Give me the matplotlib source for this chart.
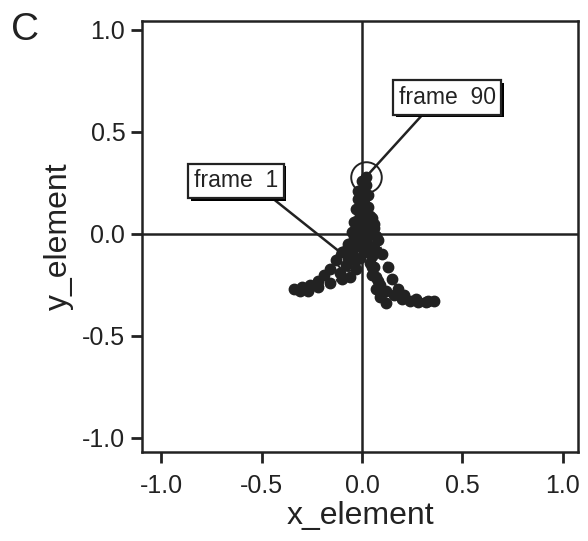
import matplotlib
matplotlib.use("Agg")
import matplotlib.pyplot as plt
import matplotlib.patheffects as pe

plt.rcParams['font.family'] = ['Liberation Sans', 'DejaVu Sans']

# trajectory of the element over 90 frames
x_element = [-0.07, -0.06, -0.04, -0.03, -0.02, -0.01, 0.01, 0.02, 0.03, 0.04,
             0.05, 0.06, 0.07, 0.09, 0.12, 0.16, 0.20, 0.24, 0.28, 0.32,
             0.36, 0.33, 0.27, 0.21, 0.18, 0.15, 0.13, 0.10, 0.08, 0.06,
             0.05, 0.03, 0.01, -0.01, -0.02, -0.03, -0.04, -0.05, -0.07, -0.10,
             -0.13, -0.16, -0.19, -0.22, -0.26, -0.30, -0.34, -0.31, -0.27, -0.22,
             -0.16, -0.10, -0.06, -0.03, -0.01, 0.00, 0.01, 0.02, 0.04, 0.06,
             0.07, 0.06, 0.04, 0.05, 0.07, 0.09, 0.12, 0.10, 0.08, 0.05,
             0.02, 0.00, -0.02, -0.04, -0.05, -0.08, -0.11, -0.04, -0.02, -0.01,
             0.00, -0.01, 0.01, 0.00, -0.02, 0.01, 0.03, 0.02, 0.00, 0.02]
y_element = [-0.12, -0.07, -0.02, 0.03, 0.07, 0.11, 0.09, 0.04, -0.01, -0.06,
             -0.11, -0.16, -0.21, -0.25, -0.28, -0.30, -0.32, -0.33, -0.335, -0.335,
             -0.33, -0.33, -0.32, -0.30, -0.27, -0.22, -0.16, -0.10, -0.03, 0.03,
             0.08, 0.13, 0.17, 0.21, 0.17, 0.12, 0.06, 0.01, -0.05, -0.09,
             -0.13, -0.17, -0.20, -0.23, -0.25, -0.26, -0.27, -0.28, -0.28, -0.26,
             -0.24, -0.22, -0.21, -0.17, -0.12, -0.06, 0.00, 0.05, 0.09, 0.05,
             -0.01, -0.07, -0.14, -0.20, -0.27, -0.31, -0.34, -0.29, -0.23, -0.16,
             -0.09, -0.03, 0.02, -0.04, -0.10, -0.15, -0.19, -0.13, -0.06, 0.01,
             0.06, 0.10, 0.14, 0.18, 0.21, 0.23, 0.19, 0.24, 0.26, 0.28]

x_ticks = [-1.0, -0.5, 0.0, 0.5, 1.0]
y_ticks = [-1.0, -0.5, 0.0, 0.5, 1.0]
tick_labels = ['-1.0', '-0.5', '0.0', '0.5', '1.0']
label_first = 'frame  1'
label_last = 'frame  90'
ink = '#222222'

fig = plt.figure(figsize=(5.88, 5.41), dpi=100)
ax = fig.add_axes([0.2415, 0.1645, 0.7415, 0.7967])
ax.set_xlim(-1.097, 1.077)
ax.set_ylim(-1.069, 1.044)

ax.axhline(0, color=ink, lw=1.8, zorder=1)
ax.axvline(0, color=ink, lw=1.8, zorder=1)

ax.plot(x_element, y_element, linestyle=':', color=ink, lw=2.2,
        marker='o', markersize=7.5, markerfacecolor=ink, markeredgecolor=ink, zorder=3)

# circles marking first and last frames
ax.plot([x_element[0]], [y_element[0]], marker='o', markersize=18, mfc='none',
        mec=ink, mew=1.4, zorder=4)
ax.plot([x_element[-1]], [y_element[-1]], marker='o', markersize=22, mfc='none',
        mec=ink, mew=1.4, zorder=4)

shadow = [pe.SimplePatchShadow(offset=(2, -2), shadow_rgbFace='k', alpha=1.0), pe.Normal()]
bbox = dict(boxstyle='square,pad=0.25', fc='white', ec=ink, lw=1.6, path_effects=shadow)

ax.annotate(label_last, xy=(x_element[-1], y_element[-1]), xytext=(0.425, 0.67),
            ha='center', va='center', fontsize=16.5, color=ink, bbox=bbox,
            arrowprops=dict(arrowstyle='-', color=ink, lw=1.8, relpos=(0.3, 0.0),
                            shrinkA=0, shrinkB=2), zorder=5)
ax.annotate(label_first, xy=(x_element[0], y_element[0]), xytext=(-0.63, 0.26),
            ha='center', va='center', fontsize=16.5, color=ink, bbox=bbox,
            arrowprops=dict(arrowstyle='-', color=ink, lw=1.8, relpos=(0.85, 0.0),
                            shrinkA=0, shrinkB=6), zorder=5)

ax.set_xticks(x_ticks)
ax.set_xticklabels(tick_labels)
ax.set_yticks(y_ticks)
ax.set_yticklabels(tick_labels)
ax.tick_params(axis='both', direction='out', length=8, width=2, colors=ink,
               labelsize=18, pad=4)
ax.tick_params(axis='x', pad=8)
for s in ax.spines.values():
    s.set_linewidth(1.8)
    s.set_color(ink)

ax.set_xlabel('x_element', fontsize=23, color=ink, labelpad=2)
ax.set_ylabel('y_element', fontsize=23, color=ink, labelpad=6)

fig.text(0.018, 0.945, 'C', fontsize=28, color=ink, ha='left', va='center')

fig.savefig('out.png', dpi=100)
